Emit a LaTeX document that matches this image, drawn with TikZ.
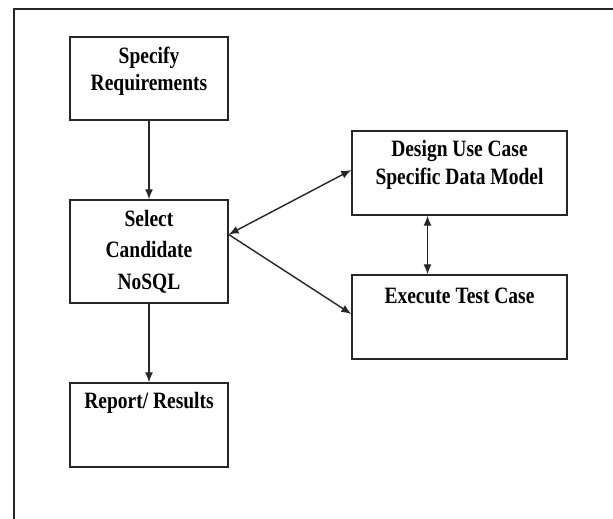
\documentclass[tikz,border=0pt]{standalone}
\usepackage{fontspec}
\setmainfont{Liberation Serif}
\usepackage{tikz}
\usetikzlibrary{positioning,arrows.meta}
\colorlet{lineC}{black!85}
\tikzset{
  box/.style={draw=lineC, line width=1.4pt, minimum width=158pt, minimum height=84pt, inner sep=0pt},
  boxtext/.style={anchor=north, align=center, inner sep=0pt, yscale=1.2, transform shape,
    font=\bfseries\fontsize{19.5}{23}\selectfont},
  link/.style={draw=lineC, line width=1.4pt},
  tip/.tip={Latex[length=10pt,width=8pt]}
}

\begin{document}
\begin{tikzpicture}[x=1pt,y=1pt]
\useasboundingbox (0,0) rectangle (613,519);
\fill[white] (0,0) rectangle (613,519);
\draw[lineC, line width=2pt] (14,0) -- (14,510) -- (613,510);

\node[box, minimum height=83pt] (spec) at (149,440.5) {};
\node[box, minimum height=103pt] (sel) at (149,267.5) {};
\node[box] (rep) at (149,94) {};
\node[box, minimum width=215pt] (des) at (459.5,346) {};
\node[box, minimum width=215pt] (exe) at (459.5,202) {};

\node[boxtext] (specT) at ([yshift=-10pt]spec.north) {Specify\\Requirements};
\node[boxtext, font=\bfseries\fontsize{19.5}{26}\selectfont] (selT) at ([yshift=-11pt]sel.north) {Select\\Candidate\\NoSQL};
\node[boxtext] (repT) at ([yshift=-10pt]rep.north) {Report/ Results};
\node[boxtext] (desT) at ([yshift=-10pt]des.north) {Design Use Case\\Specific Data Model};
\node[boxtext] (exeT) at ([yshift=-13pt]exe.north) {Execute Test Case};

\draw[link, -tip] (spec) -- (sel);
\draw[link, -tip] (sel) -- (rep);
\draw[link, tip-tip] ([yshift=17pt]sel.east) -- ([yshift=3pt]des.west);
\draw[link, -tip] ([yshift=17pt]sel.east) -- ([yshift=3pt]exe.west);
\draw[link, tip-tip] ([xshift=-32pt]des.south) -- ([xshift=-32pt]exe.north);
\end{tikzpicture}
\end{document}
